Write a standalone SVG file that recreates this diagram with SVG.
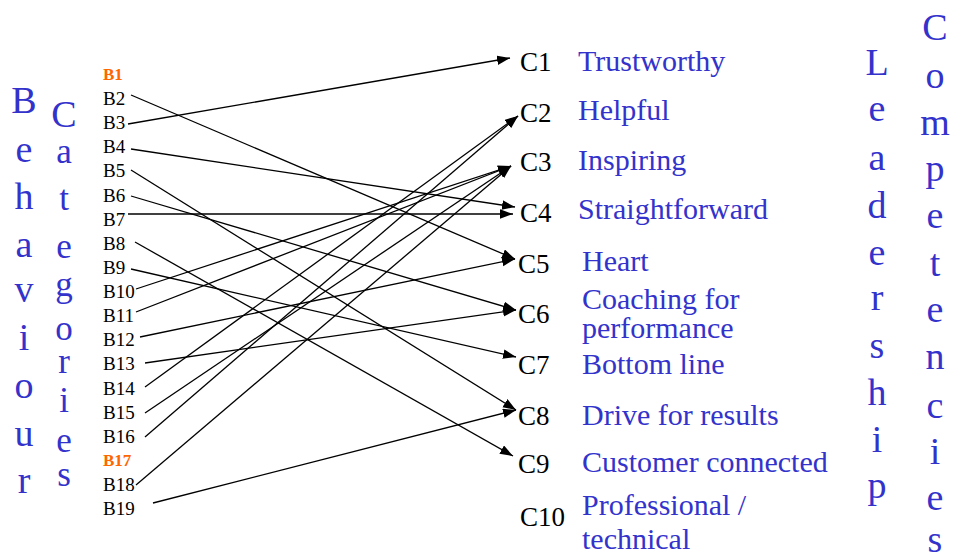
<svg xmlns="http://www.w3.org/2000/svg" width="958" height="560" viewBox="0 0 958 560">
  <style>
    .b { font-family: "Liberation Serif", "Times New Roman", serif; font-size: 19px; fill: #000; }
    .bh { font-family: "Liberation Serif", "Times New Roman", serif; font-size: 17px; font-weight: bold; fill: #ff6600; }
    .c { font-family: "Liberation Serif", "Times New Roman", serif; font-size: 27px; fill: #000; }
    .d { font-family: "Liberation Serif", "Times New Roman", serif; font-size: 30px; fill: #3333cc; }
    .v { font-family: "Liberation Serif", "Times New Roman", serif; font-size: 38px; fill: #3333cc; text-anchor: middle; }
    .vs { font-size: 35px; }
    .link { stroke: #000; stroke-width: 1.3; fill: none; marker-end: url(#arrow); }
  </style>
  <defs>
    <marker id="arrow" markerUnits="userSpaceOnUse" markerWidth="14" markerHeight="10" refX="13" refY="4.75" orient="auto">
      <path d="M0,0 L13,4.75 L0,9.5 z" fill="#000"/>
    </marker>
  </defs>
  <rect width="958" height="560" fill="#fff"/>

  <!-- vertical titles -->
  <g id="title-behaviour">
    <text class="v" x="24" y="113">B</text>
    <text class="v" x="24" y="162">e</text>
    <text class="v" x="24" y="209">h</text>
    <text class="v" x="24" y="257">a</text>
    <text class="v" x="24" y="302">v</text>
    <text class="v" x="24" y="350">i</text>
    <text class="v" x="24" y="398">o</text>
    <text class="v" x="24" y="446">u</text>
    <text class="v" x="24" y="493">r</text>
  </g>
  <g id="title-categories">
    <text class="v" x="64" y="127">C</text>
    <text class="v vs" x="64" y="163">a</text>
    <text class="v vs" x="64" y="210">t</text>
    <text class="v vs" x="64" y="258">e</text>
    <text class="v vs" x="64" y="296">g</text>
    <text class="v vs" x="64" y="340">o</text>
    <text class="v vs" x="64" y="373">r</text>
    <text class="v vs" x="64" y="412">i</text>
    <text class="v vs" x="64" y="452">e</text>
    <text class="v vs" x="64" y="486">s</text>
  </g>
  <g id="title-leadership">
    <text class="v" x="877" y="75">L</text>
    <text class="v" x="877" y="121">e</text>
    <text class="v" x="877" y="170">a</text>
    <text class="v" x="877" y="218">d</text>
    <text class="v" x="877" y="265">e</text>
    <text class="v" x="877" y="310">r</text>
    <text class="v" x="877" y="358">s</text>
    <text class="v" x="877" y="405">h</text>
    <text class="v" x="877" y="452">i</text>
    <text class="v" x="877" y="498">p</text>
  </g>
  <g id="title-competencies">
    <text class="v" x="935" y="40">C</text>
    <text class="v" x="935" y="88">o</text>
    <text class="v" x="935" y="135">m</text>
    <text class="v" x="935" y="181">p</text>
    <text class="v" x="935" y="228">e</text>
    <text class="v" x="935" y="276">t</text>
    <text class="v" x="935" y="322">e</text>
    <text class="v" x="935" y="369">n</text>
    <text class="v" x="935" y="418">c</text>
    <text class="v" x="935" y="464">i</text>
    <text class="v" x="935" y="510">e</text>
    <text class="v" x="935" y="552">s</text>
  </g>

  <!-- behaviour nodes -->
  <g id="B1"><text class="bh" x="103" y="80">B1</text></g>
  <g id="B2"><text class="b" x="103" y="105">B2</text></g>
  <g id="B3"><text class="b" x="103" y="129">B3</text></g>
  <g id="B4"><text class="b" x="103" y="153">B4</text></g>
  <g id="B5"><text class="b" x="103" y="177">B5</text></g>
  <g id="B6"><text class="b" x="103" y="201.5">B6</text></g>
  <g id="B7"><text class="b" x="103" y="226">B7</text></g>
  <g id="B8"><text class="b" x="103" y="250">B8</text></g>
  <g id="B9"><text class="b" x="103" y="274">B9</text></g>
  <g id="B10"><text class="b" x="103" y="298">B10</text></g>
  <g id="B11"><text class="b" x="103" y="322">B11</text></g>
  <g id="B12"><text class="b" x="103" y="346">B12</text></g>
  <g id="B13"><text class="b" x="103" y="370">B13</text></g>
  <g id="B14"><text class="b" x="103" y="394.5">B14</text></g>
  <g id="B15"><text class="b" x="103" y="418.5">B15</text></g>
  <g id="B16"><text class="b" x="103" y="442.5">B16</text></g>
  <g id="B17"><text class="bh" x="103" y="466">B17</text></g>
  <g id="B18"><text class="b" x="103" y="491">B18</text></g>
  <g id="B19"><text class="b" x="103" y="515">B19</text></g>

  <!-- competency nodes -->
  <g id="C1"><text class="c" x="520" y="71">C1</text><text class="d" x="578" y="71">Trustworthy</text></g>
  <g id="C2"><text class="c" x="520" y="122">C2</text><text class="d" x="578" y="120">Helpful</text></g>
  <g id="C3"><text class="c" x="520" y="171">C3</text><text class="d" x="578" y="170">Inspiring</text></g>
  <g id="C4"><text class="c" x="520" y="222">C4</text><text class="d" x="578" y="219">Straightforward</text></g>
  <g id="C5"><text class="c" x="518" y="273">C5</text><text class="d" x="582" y="271">Heart</text></g>
  <g id="C6"><text class="c" x="518" y="323">C6</text><text class="d" x="582" y="309">Coaching for</text><text class="d" x="582" y="338">performance</text></g>
  <g id="C7"><text class="c" x="518" y="374">C7</text><text class="d" x="582" y="374">Bottom line</text></g>
  <g id="C8"><text class="c" x="518" y="425">C8</text><text class="d" x="582" y="425">Drive for results</text></g>
  <g id="C9"><text class="c" x="518" y="473">C9</text><text class="d" x="582" y="472">Customer connected</text></g>
  <g id="C10"><text class="c" x="520" y="526">C10</text><text class="d" x="582" y="515">Professional /</text><text class="d" x="582" y="549">technical</text></g>

  <!-- connectors -->
  <g id="connectors">
    <line class="link" x1="131" y1="95" x2="515" y2="259"/>
    <line class="link" x1="128" y1="124" x2="510" y2="58"/>
    <line class="link" x1="131" y1="149" x2="515" y2="207"/>
    <line class="link" x1="131" y1="170" x2="516" y2="410"/>
    <line class="link" x1="131" y1="196" x2="516" y2="310"/>
    <line class="link" x1="128" y1="214" x2="513" y2="214"/>
    <line class="link" x1="135" y1="242" x2="513" y2="456"/>
    <line class="link" x1="131" y1="269" x2="516" y2="357"/>
    <line class="link" x1="136" y1="289" x2="511" y2="166"/>
    <line class="link" x1="136" y1="312" x2="511" y2="166"/>
    <line class="link" x1="140" y1="337" x2="515" y2="259"/>
    <line class="link" x1="145" y1="363" x2="516" y2="310"/>
    <line class="link" x1="145" y1="387" x2="518" y2="116"/>
    <line class="link" x1="145" y1="413" x2="511" y2="166"/>
    <line class="link" x1="145" y1="437" x2="518" y2="116"/>
    <line class="link" x1="136" y1="485" x2="511" y2="166"/>
    <line class="link" x1="153" y1="503" x2="516" y2="410"/>
  </g>
</svg>
